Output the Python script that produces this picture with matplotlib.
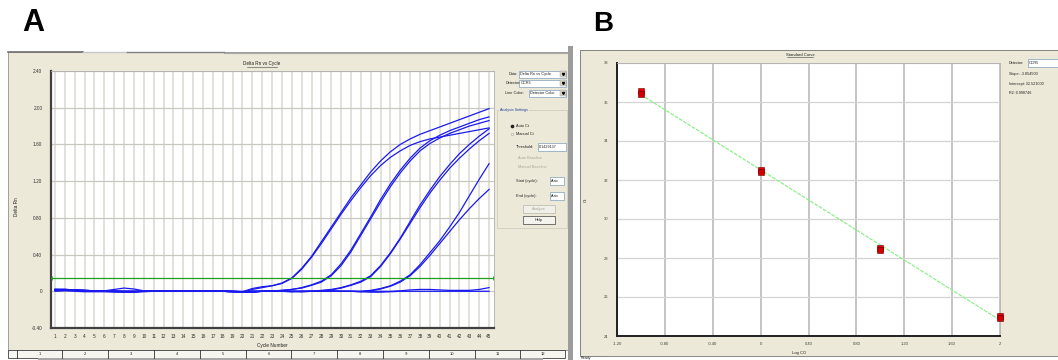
import numpy as np
import matplotlib.pyplot as plt
from matplotlib.patches import Rectangle

plt.rcParams['font.family'] = ['Liberation Sans', 'DejaVu Sans']

# ---------------- panel A: Delta Rn vs cycle ----------------
cycles = list(range(1, 46))

# baseline readings (cycles 1-32) shared by the early part of the curves
base1 = [0.02, 0.02, 0.015, 0.01, 0.005, 0.0, 0.0, 0.0, 0.0, 0.0, 0.0, 0.0, 0.0, 0.0, 0.0, 0.0,
         0.0, 0.005, 0.0, -0.005, 0.0, 0.0, 0.005, 0.0, -0.005, 0.0, 0.0, 0.005, 0.0, 0.0, 0.0, 0.0]
base2 = [0.01, 0.015, 0.01, 0.005, 0.0, 0.0, 0.0, -0.005, -0.005, 0.0, 0.0, 0.0, 0.0, 0.0, 0.0, 0.0,
         0.005, 0.0, -0.005, -0.01, -0.01, 0.0, 0.0, 0.0, 0.0, -0.005, 0.0, 0.0, 0.005, 0.0, 0.0, -0.005]

rn_1a = base1[:20] + [0.03, 0.05, 0.06, 0.09, 0.145, 0.25, 0.38, 0.54, 0.70, 0.86, 1.02, 1.16, 1.30,
                      1.42, 1.52, 1.60, 1.66, 1.71, 1.75, 1.79, 1.83, 1.87, 1.91, 1.95, 1.99]
rn_1b = base2[:20] + [0.02, 0.04, 0.06, 0.085, 0.14, 0.24, 0.37, 0.52, 0.68, 0.84, 0.99, 1.13, 1.26,
                      1.37, 1.46, 1.53, 1.59, 1.63, 1.66, 1.68, 1.70, 1.72, 1.74, 1.76, 1.78]
rn_2a = base1[:23] + [0.01, 0.02, 0.04, 0.07, 0.11, 0.18, 0.30, 0.45, 0.63, 0.81, 1.00, 1.17, 1.32,
                      1.45, 1.56, 1.64, 1.70, 1.75, 1.79, 1.83, 1.87, 1.90]
rn_2b = base2[:23] + [0.01, 0.02, 0.035, 0.065, 0.10, 0.17, 0.28, 0.43, 0.61, 0.79, 0.97, 1.14, 1.29,
                      1.42, 1.53, 1.61, 1.67, 1.72, 1.76, 1.80, 1.83, 1.86]
rn_3a = base1[:27] + [0.01, 0.02, 0.04, 0.07, 0.11, 0.17, 0.28, 0.42, 0.58, 0.76, 0.94, 1.10, 1.25,
                      1.38, 1.50, 1.60, 1.69, 1.77]
rn_3b = base2[:27] + [0.005, 0.015, 0.035, 0.065, 0.10, 0.16, 0.27, 0.41, 0.57, 0.74, 0.91, 1.07, 1.21,
                      1.34, 1.45, 1.55, 1.64, 1.72]
rn_4a = base1[:32] + [0.01, 0.03, 0.06, 0.11, 0.18, 0.29, 0.42, 0.55, 0.70, 0.86, 1.04, 1.22, 1.39]
rn_4b = base2[:32] + [0.005, 0.025, 0.055, 0.10, 0.17, 0.27, 0.39, 0.52, 0.65, 0.78, 0.90, 1.01, 1.11]

rn_ntc1 = [0.02, 0.015, 0.01, 0.005, 0.0, 0.005, 0.02, 0.035, 0.025, 0.005, 0.0, 0.0, 0.0, 0.0, 0.0,
           0.0, 0.0, 0.0, 0.0, 0.0, 0.0, 0.0, 0.0, 0.0, 0.0, 0.0, 0.0, 0.0, 0.0, 0.0, 0.0, 0.0, 0.0,
           0.0, 0.0, 0.005, 0.015, 0.02, 0.02, 0.015, 0.01, 0.01, 0.01, 0.02, 0.04]
rn_ntc2 = [0.0, 0.005, 0.0, -0.005, -0.005, -0.005, -0.01, -0.01, -0.01, -0.005, 0.0, 0.0, 0.0, 0.0,
           0.0, 0.0, 0.0, 0.0, -0.005, -0.01, -0.005, 0.0, 0.0, 0.0, 0.0, 0.0, 0.0, 0.0, 0.0, 0.0,
           0.0, -0.005, -0.01, -0.01, -0.005, 0.0, 0.0, 0.0, 0.0, 0.0, 0.0, 0.0, 0.0, 0.0, 0.0]

curves = [rn_1a, rn_1b, rn_2a, rn_2b, rn_3a, rn_3b, rn_4a, rn_4b, rn_ntc1, rn_ntc2]
threshold = 0.1429137
a_yticks = [-0.4, 0, 0.4, 0.8, 1.2, 1.6, 2.0, 2.4]
a_ylabels = ['-0.40', '0', '0.40', '0.80', '1.20', '1.60', '2.00', '2.40']
segment_labels = ['1', '2', '3', '4', '5', '6', '7', '8', '9', '10', '11', '12']

# ---------------- panel B: standard curve ----------------
log_co = [-1, 0, 1, 2]
ct_rep1 = [36.55, 32.50, 28.50, 25.02]
ct_rep2 = [36.42, 32.42, 28.42, 24.92]
b_xticks = [-1.2, -0.8, -0.4, 0, 0.4, 0.8, 1.2, 1.6, 2.0]
b_xlabels = ['-1.20', '-0.80', '-0.40', '0', '0.40', '0.80', '1.20', '1.60', '2']
b_yticks = [24, 26, 28, 30, 32, 34, 36, 38]

W, H = 1058, 360
BEIGE = '#ECE9D8'
fig = plt.figure(figsize=(W / 100, H / 100), dpi=100)
fig.patch.set_facecolor('white')

# pixel-space background layer
bg = fig.add_axes([0, 0, 1, 1], zorder=0)
bg.set_xlim(0, W)
bg.set_ylim(H, 0)
bg.axis('off')


def px_axes(x0, y0, x1, y1):
    return fig.add_axes([x0 / W, 1 - y1 / H, (x1 - x0) / W, (y1 - y0) / H], zorder=2)


def txt(x, y, s, size=3.3, color='#202020', ha='left', **kw):
    bg.text(x, y, s, fontsize=size, color=color, ha=ha, va='center', **kw)


def box(x, y, w, h, fc='white', ec='#7F9DB9', lw=0.5):
    bg.add_patch(Rectangle((x, y), w, h, fc=fc, ec=ec, lw=lw))


def combo(x, y, w, s):
    box(x, y - 3.5, w, 7)
    txt(x + 1.5, y, s, size=2.8)
    box(x + w - 6, y - 3, 5.5, 6, fc='#D8D4C8', ec='#9A9A9A', lw=0.3)
    bg.plot(x + w - 3.2, y + 0.3, marker='v', ms=1.5, color='black')


# panel labels
txt(22, 23, 'A', size=22, color='black', weight='bold')
txt(593, 24, 'B', size=20, color='black', weight='bold')

# ---- panel A window ----
box(8, 52, 560, 298, fc=BEIGE, ec='#909090', lw=0.6)
bg.plot([8, 83], [52, 52], color='#707070', lw=1.2)
bg.plot([83, 127], [51.5, 51.5], color='#C8C8C8', lw=1.0)
bg.plot([127, 224], [52, 52], color='#808080', lw=1.0)
bg.plot([224, 568], [52.5, 52.5], color='#A8A8A8', lw=0.8)
txt(262, 64, 'Delta Rn vs Cycle', size=3.3, ha='center')
bg.plot([247, 277], [66.5, 66.5], color='#404040', lw=0.4)
txt(17, 207, 'Delta Rn', size=3.4, ha='center', rotation=90)
txt(272, 346, 'Cycle Number', size=3.4, ha='center')

# segment row at the bottom of panel A
box(8, 350, 557, 8, fc='#F6F5F0', ec='#404040', lw=0.6)
seg_left, seg_step = 16.5, 45.8
for i, lab in enumerate(segment_labels):
    xs = seg_left + i * seg_step
    bg.plot([xs, xs], [350, 358], color='#303030', lw=0.6)
    txt(xs + seg_step / 2, 354, lab, size=3.0, ha='center')
bg.add_patch(Rectangle((38, 358), 505, 2, fc='#A8A8A8', lw=0))

# controls of panel A
txt(509, 74, 'Data:', size=2.8)
combo(519, 74, 47, 'Delta Rn vs Cycle')
txt(506, 83, 'Detector:', size=2.8)
combo(519, 83, 47, 'CCR5')
txt(505, 93, 'Line Color:', size=2.8)
combo(529, 93, 37, 'Detector Color')
box(497, 110, 70, 118, fc='none', ec='#D0CDBF', lw=0.6)
bg.add_patch(Rectangle((499, 108), 30, 4, fc=BEIGE, lw=0))
txt(500, 110.5, 'Analysis Settings', size=2.6, color='#1A3A9A')
bg.plot(512, 126, marker='o', ms=1.6, color='#202020')
txt(516, 126, 'Auto Ct', size=2.8)
bg.plot(512, 134, marker='o', ms=1.6, mfc='white', mec='#808080', mew=0.3)
txt(516, 134, 'Manual Ct', size=2.8)
txt(516, 147, 'Threshold:', size=2.8)
box(538, 143, 28, 8)
txt(539, 147, '0.1429137', size=2.7)
txt(518, 158, 'Auto Baseline', size=2.8, color='#ACA899')
txt(518, 167, 'Manual Baseline', size=2.8, color='#ACA899')
txt(516, 181, 'Start (cycle):', size=2.8)
box(550, 177, 14, 8)
txt(551, 181, 'Auto', size=2.7)
txt(516, 196, 'End (cycle):', size=2.8)
box(550, 192, 14, 8)
txt(551, 196, 'Auto', size=2.7)
box(523, 205, 32, 8, fc='#F0EFE8', ec='#B8B4A8', lw=0.5)
txt(539, 209, 'Analyze', size=2.8, ha='center', color='#ACA899')
box(523, 216, 32, 8, fc='#F4F3EE', ec='#404040', lw=0.5)
txt(539, 220, 'Help', size=2.8, ha='center')

# separator between the two screenshots
bg.add_patch(Rectangle((568, 46), 5, 314, fc='#9C9C9C', lw=0))

# ---- panel B window ----
box(580, 50, 478, 306, fc=BEIGE, ec='#707070', lw=0.6)
txt(800, 55, 'Standard Curve', size=3.0, ha='center')
bg.plot([787, 813], [57.3, 57.3], color='#404040', lw=0.4)
txt(586, 200, 'Ct', size=3.2, ha='center', rotation=90)
txt(799, 353, 'Log CO', size=3.0, ha='center')
txt(581, 358.5, 'Ready', size=2.6)
bg.plot([607, 1058], [356.3, 356.3], color='#909090', lw=0.5)

# ---- panel A plot ----
ax = px_axes(50.6, 71, 494, 328)
ax.set_facecolor('white')
ax.set_xlim(0.55, 45.5)
ax.set_ylim(-0.4, 2.4)
ax.set_xticks(cycles)
ax.set_xticklabels([str(c) for c in cycles])
ax.set_yticks(a_yticks)
ax.set_yticklabels(a_ylabels)
ax.tick_params(length=0, labelsize=3.4, labelcolor='#303030', pad=4)
ax.tick_params(axis='y', pad=6)
for c in cycles:
    ax.axvline(c, color='#DCDCD4', lw=1.2, zorder=0)
for t in a_yticks:
    ax.axhline(t, color='#C8C8C0', lw=0.9, zorder=0)
for rn in curves:
    ax.plot(cycles, rn, color='#1A1AF0', lw=0.9, zorder=2)
ax.axhline(threshold, color='#1FA01F', lw=0.9, zorder=3)
ax.plot([0.7, 45.35], [threshold, threshold], ls='none', marker='|', ms=2.5,
        color='#1FA01F', mew=0.6, zorder=3)
for side in ['top', 'right']:
    ax.spines[side].set_color('#B0B0B0')
    ax.spines[side].set_linewidth(0.6)
for side in ['left', 'bottom']:
    ax.spines[side].set_color('#404040')
    ax.spines[side].set_linewidth(1.6)

# ---- panel B plot ----
bx = px_axes(617, 63, 1000, 336)
bx.set_facecolor('white')
bx.set_xlim(-1.2, 2.0)
bx.set_ylim(24, 38)
bx.set_xticks(b_xticks)
bx.set_xticklabels(b_xlabels)
bx.set_yticks(b_yticks)
bx.set_yticklabels([str(v) for v in b_yticks])
bx.tick_params(length=0, labelsize=3.0, labelcolor='#404040', pad=4)
bx.tick_params(axis='y', pad=6)
for t in b_xticks:
    bx.axvline(t, color='#B4B4B4', lw=1.1, zorder=0)
for t in b_yticks:
    bx.axhline(t, color='#D4D4D4', lw=0.9, zorder=0)

x_all = np.array(log_co + log_co, dtype=float)
y_all = np.array(ct_rep1 + ct_rep2)
slope, intercept = np.polyfit(x_all, y_all, 1)
pred = np.polyval([slope, intercept], x_all)
r2 = 1 - np.sum((y_all - pred) ** 2) / np.sum((y_all - y_all.mean()) ** 2)
fit_x = [min(log_co), max(log_co)]
bx.plot(fit_x, np.polyval([slope, intercept], fit_x), color='#8CF08C', lw=0.9,
        ls=(0, (3, 1)), zorder=2)
bx.plot(log_co, ct_rep1, ls='none', marker='s', ms=4.2, mfc='#E00000', mec='#700000',
        mew=0.4, zorder=3, clip_on=False)
bx.plot(log_co, ct_rep2, ls='none', marker='s', ms=4.2, mfc='#D00000', mec='#700000',
        mew=0.4, zorder=3, clip_on=False)
for side in ['top', 'right']:
    bx.spines[side].set_color('#B0B0B0')
    bx.spines[side].set_linewidth(0.6)
for side in ['left', 'bottom']:
    bx.spines[side].set_color('#202020')
    bx.spines[side].set_linewidth(1.4)

# info text of panel B
txt(1009, 62.5, 'Detector:', size=2.8)
box(1028, 58.5, 32, 8)
txt(1029, 62.5, 'CCR5', size=2.7)
txt(1009, 74.5, f'Slope: {slope:.6f}', size=2.7)
txt(1009, 84, f'Intercept: {intercept:.6f}', size=2.7)
txt(1009, 93, f'R2: {r2:.6f}', size=2.7)

fig.savefig('out.png', dpi=100, facecolor='white')
